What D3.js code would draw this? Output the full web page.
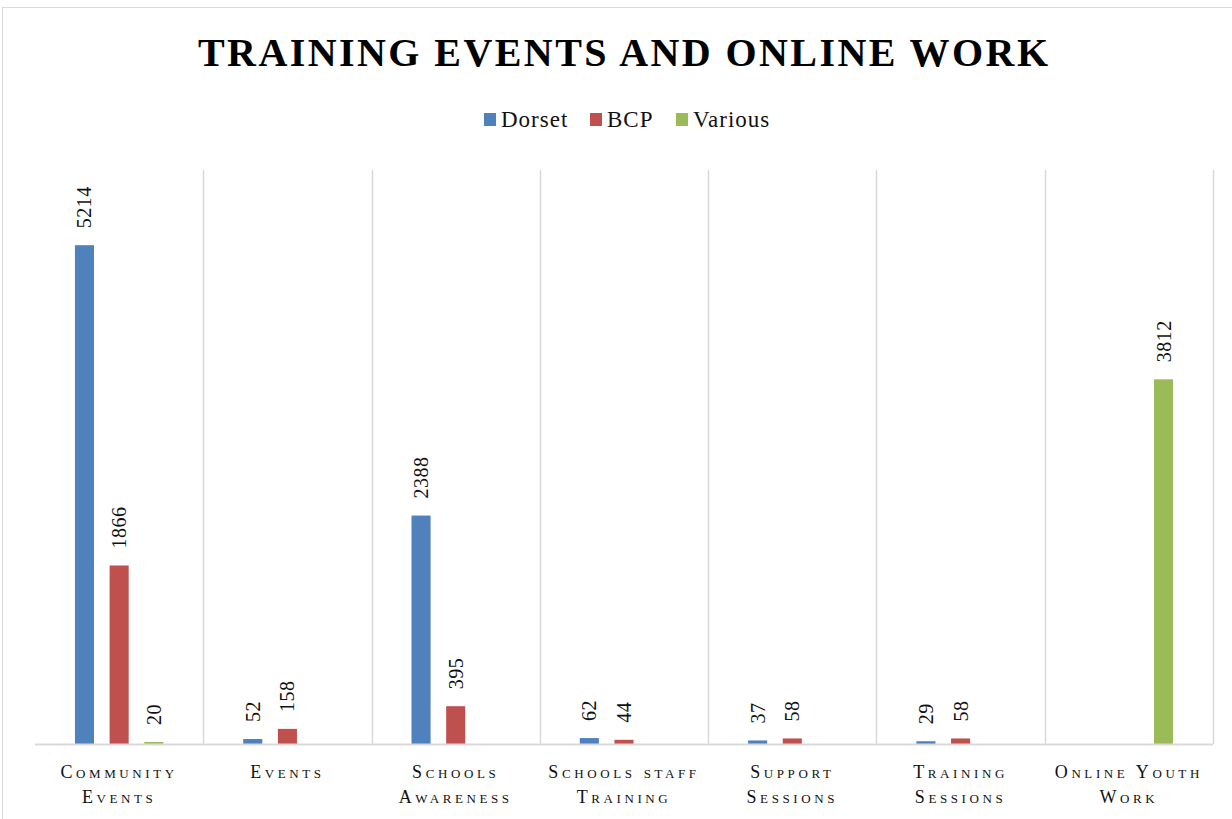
<!DOCTYPE html>
<html>
<head>
<meta charset="utf-8">
<script src="https://cdn.jsdelivr.net/npm/d3@7"></script>
<style>
  body { margin: 0; background: #fff; }
  svg { display: block; }
</style>
</head>
<body>
<div id="canvas"></div>
<script>
// chart data
var categories = [['Community', 'Events'], ['Events'], ['Schools', 'Awareness'], ['Schools staff', 'Training'],
                  ['Support', 'Sessions'], ['Training', 'Sessions'], ['Online Youth', 'Work']];
var seriesNames = ['Dorset', 'BCP', 'Various'];
var dorset  = [5214, 52, 2388, 62, 37, 29, null];
var bcp     = [1866, 158, 395, 44, 58, 58, null];
var various = [20, null, null, null, null, null, 3812];
var colors = ['#4f81bd', '#c0504d', '#9bbb59'];

var W = 1232, H = 819;
var m = {t: 170, r: 19, b: 75, l: 35};
var w = W - m.l - m.r, h = H - m.t - m.b;

var svg = d3.select('#canvas').append('svg')
  .attr('width', W).attr('height', H);

// outer chart border
svg.append('rect')
  .attr('x', 2.5).attr('y', 7.5)
  .attr('width', W + 10).attr('height', H + 10)
  .attr('fill', 'none').attr('stroke', '#d9d9d9');

// title
svg.append('text')
  .attr('x', 623).attr('y', 66)
  .attr('text-anchor', 'middle')
  .attr('textLength', 850).attr('lengthAdjust', 'spacing')
  .style('font-family', 'Liberation Serif, serif')
  .style('font-weight', 'bold')
  .style('font-size', '40px')
  .text('TRAINING EVENTS AND ONLINE WORK');

// legend
var legend = svg.append('g').attr('transform', 'translate(484,0)');
var legendX = [0, 106, 192];
seriesNames.forEach(function(s, i) {
  var g = legend.append('g').attr('transform', 'translate(' + legendX[i] + ',0)');
  g.append('rect').attr('x', 0).attr('y', 113).attr('width', 12).attr('height', 13).attr('fill', colors[i]);
  g.append('text').attr('x', 17).attr('y', 127)
    .style('font-family', 'Liberation Serif, serif')
    .style('font-size', '23px').style('fill', '#111')
    .style('letter-spacing', '1px')
    .text(s);
});

var plot = svg.append('g').attr('transform', 'translate(' + m.l + ',' + m.t + ')');

var scaleX = d3.scaleBand()
  .domain(d3.range(categories.length))
  .range([0, w]);

var scaleInner = d3.scaleBand()
  .domain(seriesNames)
  .range([scaleX.bandwidth() / 2 - 52, scaleX.bandwidth() / 2 + 52])
  .paddingInner(0.45).paddingOuter(0.225);

var scaleY = d3.scaleLinear()
  .domain([0, 6000])
  .range([h, 0]);

// vertical gridlines between categories
plot.selectAll('.grid')
  .data(d3.range(1, categories.length + 1))
  .enter().append('line')
  .attr('class', 'grid')
  .attr('x1', function(d) { return Math.round(d * scaleX.step()) + 0.5; })
  .attr('x2', function(d) { return Math.round(d * scaleX.step()) + 0.5; })
  .attr('y1', 0).attr('y2', h)
  .attr('stroke', '#d9d9d9').attr('stroke-width', 1.5);

// bars
var seriesData = [dorset, bcp, various];
var groups = plot.selectAll('.series')
  .data(seriesData)
  .enter().append('g')
  .attr('class', 'series');

groups.each(function(vals, si) {
  var g = d3.select(this);
  var rows = vals.map(function(v, ci) { return {v: v, ci: ci}; })
    .filter(function(d) { return d.v != null; });
  g.selectAll('rect')
    .data(rows)
    .enter().append('rect')
    .attr('x', function(d) { return scaleX(d.ci) + scaleInner(seriesNames[si]); })
    .attr('width', scaleInner.bandwidth())
    .attr('y', function(d) { return Math.min(scaleY(d.v), h - 2); })
    .attr('height', function(d) { return Math.max(h - scaleY(d.v), 2); })
    .attr('fill', colors[si]);
  g.selectAll('text')
    .data(rows)
    .enter().append('text')
    .attr('transform', function(d) {
      var cx = scaleX(d.ci) + scaleInner(seriesNames[si]) + scaleInner.bandwidth() / 2;
      var cy = Math.min(scaleY(d.v), h - 2) - 17;
      return 'translate(' + cx + ',' + cy + ') rotate(-90)';
    })
    .attr('dy', '0.35em')
    .style('font-family', 'Liberation Serif, serif')
    .style('font-size', '20px')
    .style('letter-spacing', '0.5px')
    .style('fill', '#111')
    .text(function(d) { return d.v; });
});

// x axis baseline
plot.append('line')
  .attr('x1', 0).attr('x2', w)
  .attr('y1', h + 0.5).attr('y2', h + 0.5)
  .attr('stroke', '#d9d9d9').attr('stroke-width', 2);

// category labels
var labels = plot.selectAll('.xlab')
  .data(categories)
  .enter().append('text')
  .attr('class', 'xlab')
  .attr('text-anchor', 'middle')
  .attr('x', function(d, i) { return scaleX(i) + scaleX.bandwidth() / 2; })
  .attr('y', h + 34)
  .style('font-family', 'Liberation Serif, serif')
  .style('font-size', '18px')
  .style('font-variant', 'small-caps')
  .style('letter-spacing', '3.6px')
  .style('fill', '#111');

labels.each(function(d) {
  var t = d3.select(this);
  d.forEach(function(line, k) {
    t.append('tspan')
      .attr('x', t.attr('x'))
      .attr('dy', k === 0 ? 0 : 25)
      .text(line);
  });
});
</script>
</body>
</html>
